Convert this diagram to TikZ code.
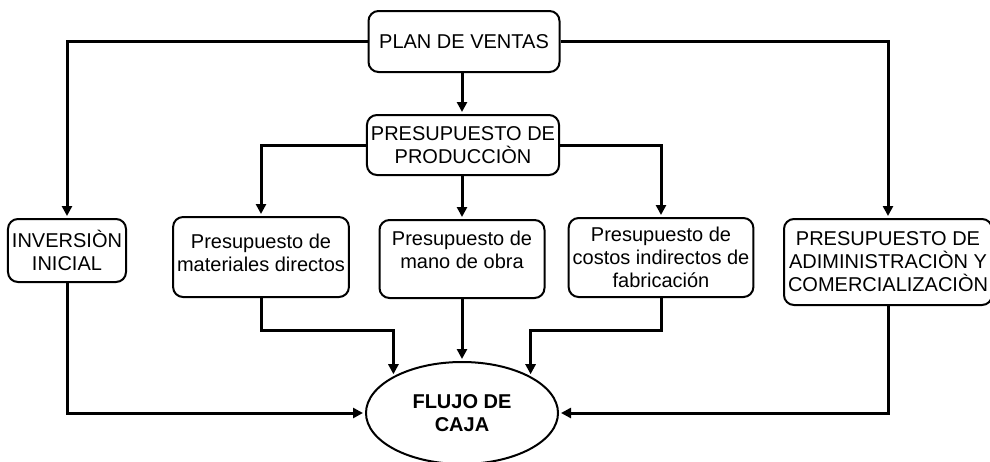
\documentclass[tikz,border=0pt]{standalone}
\usepackage{fontspec}
\setmainfont{Liberation Sans}
\usetikzlibrary{arrows.meta,shapes.geometric}
\begin{document}
\begin{tikzpicture}[x=0.5pt,y=-0.5pt,
                    bloque/.style={draw,line width=1pt,rounded corners=5pt,align=center,
                      inner sep=2pt,font=\fontsize{10}{11.5}\selectfont},
                    flecha/.style={line width=1.5pt,-{Triangle[length=5pt,width=5pt]},shorten >=1pt}]
                    \useasboundingbox (0,0) rectangle (990,461);
                    % cajas
                    \node[bloque,minimum width=95.5pt,minimum height=30.5pt] (ventas) at (464,41.5) {PLAN DE VENTAS};
                    \node[bloque,minimum width=95.5pt,minimum height=30pt] (prod) at (463,145) {PRESUPUESTO DE\\PRODUCCIÒN};
                    \node[bloque,minimum width=58pt,minimum height=31.5pt] (inv) at (67,250.5) {INVERSIÒN\\INICIAL};
                    \node[bloque,minimum width=87.5pt,minimum height=40pt] (mat) at (261,257) {Presupuesto de\\materiales directos\\[-7.5pt]\mbox{}};
                    \node[bloque,minimum width=82.5pt,minimum height=39pt] (mano) at (462,259) {Presupuesto de\\mano de obra\\[-2.5pt]\mbox{}};
                    \node[bloque,minimum width=91.5pt,minimum height=39.5pt] (cost) at (661,257.5) {Presupuesto de\\costos indirectos de\\fabricación};
                    \node[bloque,minimum width=103.5pt,minimum height=43pt] (adm) at (888,262) {PRESUPUESTO DE\\ADIMINISTRACIÒN Y\\COMERCIALIZACIÒN};
                    \node[draw,ellipse,line width=1pt,minimum width=96pt,minimum height=51pt,align=center,
                      font=\fontsize{10}{11.5}\selectfont\bfseries] (flujo) at (462,413) {FLUJO DE\\CAJA};
                    % flechas
                    \draw[flecha] (ventas.west) -| (inv.north);
                    \draw[flecha] (ventas.east) -| (adm.north);
                    \draw[flecha] (ventas.south -| mano) -- (prod.north -| mano);
                    \draw[flecha] (prod.west) -| (mat.north);
                    \draw[flecha] (prod.east) -| (cost.north);
                    \draw[flecha] (prod.south -| mano) -- (mano.north);
                    \draw[flecha] (inv.south) |- (flujo.west);
                    \draw[flecha] (adm.south) |- (flujo.east);
                    \draw[flecha] (mat.south) -- ++(0,32) -| (flujo.north west);
                    \draw[flecha] (cost.south) -- ++(0,32) -| (flujo.north east);
                    \draw[flecha] (mano.south) -- (flujo.north);
                \end{tikzpicture}
\end{document}
